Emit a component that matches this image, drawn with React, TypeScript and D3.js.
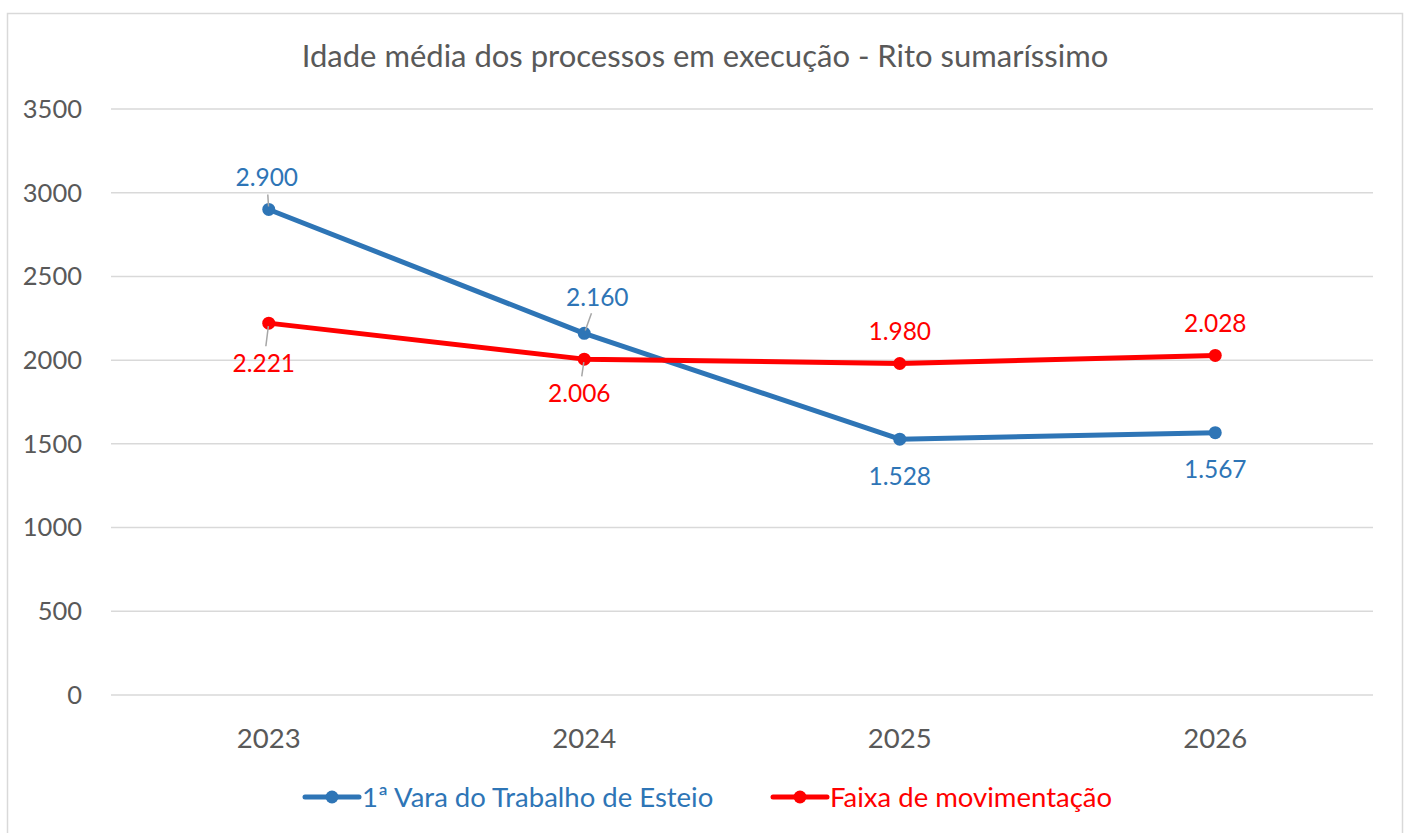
import React, { useEffect, useRef } from 'react';
import * as d3 from 'd3';

// chart values
const years = ['2023', '2024', '2025', '2026'];
const varaValues = [2900, 2160, 1528, 1567];
const faixaValues = [2221, 2006, 1980, 2028];
const yTicks = [0, 500, 1000, 1500, 2000, 2500, 3000, 3500];

const seriesNames = ['1ª Vara do Trabalho de Esteio', 'Faixa de movimentação'];
const title = 'Idade média dos processos em execução - Rito sumaríssimo';

// label placement per point: offset of the label centre from the point, and whether a leader line is drawn
const varaLabelPos = [
  { dx: -2, dy: -32, leader: true },
  { dx: 13, dy: -36, leader: true },
  { dx: 0, dy: 37, leader: false },
  { dx: 0, dy: 37, leader: false },
];
const faixaLabelPos = [
  { dx: -5, dy: 40, leader: true },
  { dx: -5, dy: 34, leader: true },
  { dx: 0, dy: -32, leader: false },
  { dx: 0, dy: -32, leader: false },
];

const fmt = (v: number) => d3.format(',')(v).replace(/,/g, '.');

const App = () => {
  const svgRef = useRef<SVGSVGElement>(null);

  useEffect(() => {
    if (!svgRef.current) return;
    const svg = d3.select(svgRef.current);
    svg.selectAll('*').remove();

    const width = 1407;
    const height = 833;
    const margin = { top: 109, right: 34, bottom: 138, left: 111 };
    const font = 'Lato, "Open Sans", sans-serif';
    const textGray = '#595959';
    const gridGray = '#D9D9D9';

    svg.attr('width', width).attr('height', height);

    svg.append('rect')
      .attr('x', 0).attr('y', 0).attr('width', width).attr('height', height)
      .attr('fill', '#fff');

    // chart border
    svg.append('rect')
      .attr('x', 7.5).attr('y', 13.5)
      .attr('width', 1395).attr('height', 840)
      .attr('fill', 'none')
      .attr('stroke', gridGray)
      .attr('stroke-width', 1.5);

    const x = d3.scaleBand()
      .domain(years)
      .range([margin.left, width - margin.right]);

    const y = d3.scaleLinear()
      .domain([0, 3500])
      .range([height - margin.bottom, margin.top]);

    const cx = (d: string) => (x(d) as number) + x.bandwidth() / 2;

    // gridlines
    svg.append('g')
      .selectAll('line')
      .data(yTicks)
      .join('line')
      .attr('x1', margin.left)
      .attr('x2', width - margin.right)
      .attr('y1', d => y(d))
      .attr('y2', d => y(d))
      .attr('stroke', gridGray)
      .attr('stroke-width', 1.5);

    // y tick labels
    svg.append('g')
      .selectAll('text')
      .data(yTicks)
      .join('text')
      .attr('x', 82)
      .attr('y', d => y(d))
      .attr('dy', '0.35em')
      .attr('text-anchor', 'end')
      .attr('font-family', font)
      .attr('font-size', 25.5)
      .attr('fill', textGray)
      .text(d => d);

    // x tick labels
    svg.append('g')
      .selectAll('text')
      .data(years)
      .join('text')
      .attr('x', d => cx(d))
      .attr('y', 738)
      .attr('dy', '0.35em')
      .attr('text-anchor', 'middle')
      .attr('font-family', font)
      .attr('font-size', 27.5)
      .attr('fill', textGray)
      .text(d => d);

    // title
    svg.append('text')
      .attr('x', 705)
      .attr('y', 56)
      .attr('dy', '0.35em')
      .attr('text-anchor', 'middle')
      .attr('font-family', font)
      .attr('font-size', 31)
      .attr('fill', textGray)
      .text(title);

    const series = [
      { name: seriesNames[0], values: varaValues, color: '#2E75B6', labels: varaLabelPos },
      { name: seriesNames[1], values: faixaValues, color: '#FF0000', labels: faixaLabelPos },
    ];

    const line = d3.line<number>()
      .x((_, i) => cx(years[i]))
      .y(d => y(d));

    series.forEach(s => {
      const g = svg.append('g');

      g.append('path')
        .datum(s.values)
        .attr('fill', 'none')
        .attr('stroke', s.color)
        .attr('stroke-width', 5)
        .attr('stroke-linejoin', 'round')
        .attr('d', line);

      g.selectAll('circle')
        .data(s.values)
        .join('circle')
        .attr('cx', (_, i) => cx(years[i]))
        .attr('cy', d => y(d))
        .attr('r', 6.5)
        .attr('fill', s.color);

      // leader lines
      s.values.forEach((v, i) => {
        const p = s.labels[i];
        if (!p.leader) return;
        const px = cx(years[i]);
        const py = y(v);
        const len = Math.hypot(p.dx, p.dy);
        const ux = p.dx / len;
        const uy = p.dy / len;
        g.append('line')
          .attr('x1', px + ux * 3)
          .attr('y1', py + uy * 3)
          .attr('x2', px + ux * (len - 17))
          .attr('y2', py + uy * (len - 17))
          .attr('stroke', '#A6A6A6')
          .attr('stroke-width', 1.5);
      });

      g.selectAll('text')
        .data(s.values)
        .join('text')
        .attr('x', (_, i) => cx(years[i]) + s.labels[i].dx)
        .attr('y', (d, i) => y(d) + s.labels[i].dy)
        .attr('dy', '0.35em')
        .attr('text-anchor', 'middle')
        .attr('font-family', font)
        .attr('font-size', 24.5)
        .attr('fill', s.color)
        .text(d => fmt(d));
    });

    // legend
    const legendItems = [
      { name: seriesNames[0], color: '#2E75B6', x: 305 },
      { name: seriesNames[1], color: '#FF0000', x: 773 },
    ];
    const ly = 797;
    const legend = svg.append('g');
    legendItems.forEach(item => {
      legend.append('line')
        .attr('x1', item.x).attr('x2', item.x + 54)
        .attr('y1', ly).attr('y2', ly)
        .attr('stroke', item.color)
        .attr('stroke-width', 5)
        .attr('stroke-linecap', 'round');
      legend.append('circle')
        .attr('cx', item.x + 27).attr('cy', ly)
        .attr('r', 6.5)
        .attr('fill', item.color);
      legend.append('text')
        .attr('x', item.x + 57)
        .attr('y', ly)
        .attr('dy', '0.35em')
        .attr('font-family', font)
        .attr('font-size', 27.5)
        .attr('fill', item.color)
        .text(item.name);
    });
  }, []);

  return (
    <svg ref={svgRef} style={{ position: 'absolute', left: 0, top: 0, display: 'block' }}></svg>
  );
};

export default App;
